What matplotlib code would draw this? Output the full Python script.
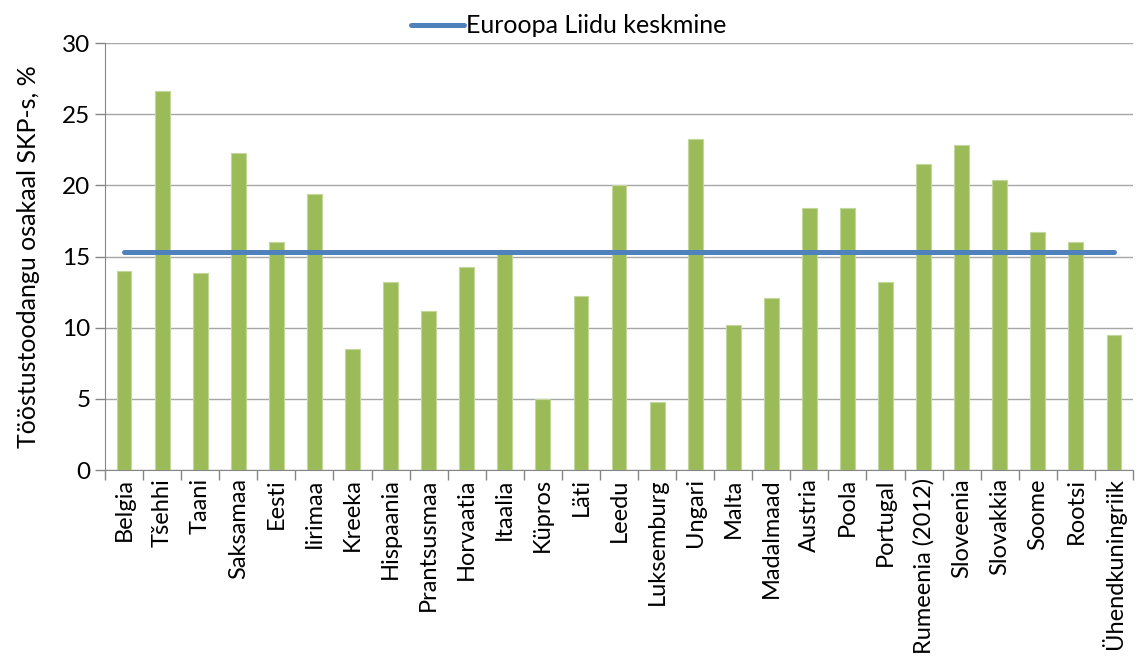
import numpy as np
import matplotlib.pyplot as plt
from matplotlib.lines import Line2D

riigid = ['Belgia', 'Tšehhi', 'Taani', 'Saksamaa', 'Eesti', 'Iirimaa', 'Kreeka',
          'Hispaania', 'Prantsusmaa', 'Horvaatia', 'Itaalia', 'Küpros', 'Läti',
          'Leedu', 'Luksemburg', 'Ungari', 'Malta', 'Madalmaad', 'Austria', 'Poola',
          'Portugal', 'Rumeenia (2012)', 'Sloveenia', 'Slovakkia', 'Soome', 'Rootsi',
          'Ühendkuningriik']
osakaal = [14.0, 26.6, 13.85, 22.25, 16.0, 19.4, 8.5,
           13.2, 11.2, 14.25, 15.45, 5.0, 12.2,
           20.0, 4.8, 23.25, 10.2, 12.1, 18.4, 18.4,
           13.2, 21.5, 22.8, 20.4, 16.7, 16.0,
           9.5]
el_keskmine = 15.3

plt.rcParams['font.family'] = ['Lato', 'DejaVu Sans']

fig = plt.figure(figsize=(11.38, 6.70), dpi=100)
ax = fig.add_axes([0.0923, 0.2985, 0.9033, 0.6373])

x = np.arange(len(riigid))
ax.bar(x, osakaal, width=0.39, color='#9BBB59', edgecolor='#C3D69B',
       linewidth=0.8, zorder=2)
ax.plot([x[0], x[-1]], [el_keskmine, el_keskmine], color='#4F81BD',
        linewidth=3.6, solid_capstyle='round', zorder=3)

ax.set_xlim(-0.5, len(riigid) - 0.5)
ax.set_ylim(0, 30)
ax.set_yticks(range(0, 31, 5))
ax.yaxis.grid(True, color='#A6A6A6', linewidth=1.0, zorder=0)
ax.set_axisbelow(True)

# category labels sit in the middle, tick marks on the boundaries
ax.set_xticks(x)
ax.set_xticklabels(riigid, rotation=90, fontsize=17)
ax.tick_params(axis='x', which='major', length=0, pad=6)
ax.set_xticks(np.arange(-0.5, len(riigid), 1.0), minor=True)
ax.tick_params(axis='x', which='minor', length=7, color='#868686', width=1)
ax.tick_params(axis='y', length=7, color='#868686', width=1, labelsize=17.5)

for side in ['top', 'right']:
    ax.spines[side].set_visible(False)
for side in ['left', 'bottom']:
    ax.spines[side].set_color('#868686')

ax.set_ylabel('Tööstustoodangu osakaal SKP-s, %', fontsize=18, labelpad=16)

handle = Line2D([], [], color='#4F81BD', linewidth=3.6, solid_capstyle='round')
fig.legend([handle], ['Euroopa Liidu keskmine'], loc='upper center',
           bbox_to_anchor=(0.5, 1.012), frameon=False, fontsize=18,
           handlelength=2.1, handletextpad=0.1)

fig.savefig('out.png', dpi=100)
